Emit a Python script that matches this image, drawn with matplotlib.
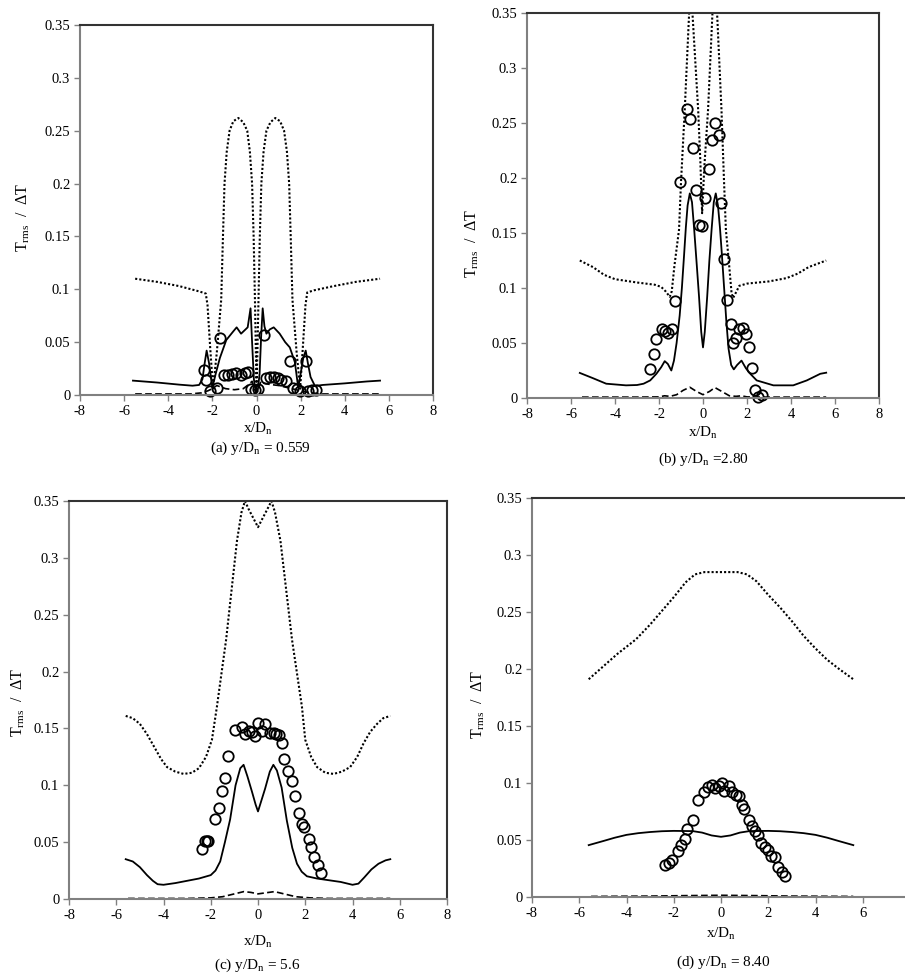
import matplotlib
matplotlib.use("Agg")
import matplotlib.pyplot as plt

plt.rcParams['font.family'] = ['Liberation Serif', 'DejaVu Serif']
plt.rcParams['mathtext.fontset'] = 'custom'
plt.rcParams['mathtext.rm'] = 'Liberation Serif'
plt.rcParams['mathtext.it'] = 'Liberation Serif:italic'
plt.rcParams['axes.unicode_minus'] = False

# ---------------- panel (a) y/Dn = 0.559 ----------------
a_dot_x = [-5.5, -4.5, -3.5, -2.6, -2.3, -2.22, -2.1, -1.97, -1.8, -1.6, -1.52, -1.45, -1.35, -1.22,
           -1.05, -0.82, -0.6, -0.42, -0.3, -0.2, -0.13, -0.07, -0.02, 0.0, 0.03, 0.09, 0.15, 0.22,
           0.32, 0.45, 0.63, 0.85, 1.07, 1.25, 1.38, 1.48, 1.55, 1.63, 1.82, 1.98, 2.1, 2.22, 2.3,
           2.6, 3.5, 4.5, 5.6]
a_dot_y = [0.110, 0.107, 0.103, 0.098, 0.096, 0.085, 0.045, 0.006, 0.04, 0.09, 0.15, 0.2, 0.23, 0.25,
           0.259, 0.262, 0.258, 0.25, 0.23, 0.2, 0.15, 0.09, 0.03, 0.005, 0.03, 0.09, 0.15, 0.2,
           0.23, 0.25, 0.258, 0.262, 0.259, 0.25, 0.23, 0.2, 0.15, 0.09, 0.04, 0.006, 0.045, 0.085, 0.097,
           0.099, 0.103, 0.107, 0.110]
a_sol_x = [-5.6, -4.5, -3.5, -2.9, -2.6, -2.45, -2.35, -2.26, -2.15, -2.0, -1.85, -1.66, -1.37, -1.06,
           -0.9, -0.7, -0.55, -0.4, -0.27, -0.2, -0.12, -0.03, 0.05, 0.14, 0.21, 0.28, 0.36, 0.45,
           0.6, 0.78, 1.05, 1.3, 1.51, 1.74, 1.89, 2.0, 2.12, 2.23, 2.33, 2.45, 2.65, 3.0, 4.0, 5.0, 5.6]
a_sol_y = [0.0136, 0.0118, 0.0098, 0.0088, 0.0095, 0.015, 0.03, 0.042, 0.03, 0.007, 0.02, 0.035, 0.052, 0.06,
           0.064, 0.058, 0.061, 0.064, 0.082, 0.05, 0.015, 0.003, 0.003, 0.02, 0.055, 0.082, 0.065, 0.058,
           0.062, 0.064, 0.058, 0.05, 0.045, 0.031, 0.007, 0.02, 0.035, 0.042, 0.03, 0.017, 0.0085, 0.0095,
           0.011, 0.0128, 0.0136]
a_dash_x = [-5.5, -3.0, -2.5, -2.2, -2.0, -1.8, -1.4, -1.0, -0.6, -0.35, -0.2, -0.08, 0.0, 0.08, 0.2,
            0.35, 0.6, 1.0, 1.4, 1.8, 2.0, 2.2, 2.5, 3.0, 5.6]
a_dash_y = [0.001, 0.001, 0.002, 0.004, 0.006, 0.009, 0.006, 0.005, 0.006, 0.01, 0.013, 0.005, 0.002,
            0.005, 0.013, 0.011, 0.01, 0.009, 0.007, 0.005, 0.004, 0.003, 0.002, 0.001, 0.001]
a_exp_x = [-2.4, -2.28, -2.1, -1.81, -1.66, -1.48, -1.29, -1.13, -0.92, -0.7, -0.53, -0.4, -0.24, -0.08,
           0.08, 0.33, 0.42, 0.6, 0.8, 0.98, 1.13, 1.33, 1.54, 1.66, 1.84, 1.97, 2.23, 2.33, 2.53, 2.71]
a_exp_y = [0.024, 0.014, 0.004, 0.007, 0.054, 0.019, 0.019, 0.020, 0.021, 0.019, 0.021, 0.022, 0.006, 0.005,
           0.006, 0.057, 0.016, 0.017, 0.017, 0.016, 0.014, 0.013, 0.032, 0.007, 0.006, 0.004, 0.032, 0.004,
           0.005, 0.005]

# ---------------- panel (b) y/Dn = 2.80 ----------------
b_dot_x = [-5.6, -5.0, -4.5, -4.0, -3.0, -2.2, -1.9, -1.7, -1.51, -1.42, -1.3, -1.09, -1.0, -0.83,
           -0.63, -0.56, -0.48, -0.22, -0.12, -0.04, 0.06, 0.23, 0.43, 0.54, 0.64, 0.84, 0.95, 1.04,
           1.17, 1.3, 1.37, 1.5, 1.65, 2.0, 3.0, 3.8, 4.3, 4.8, 5.6]
b_dot_y = [0.125, 0.119, 0.112, 0.108, 0.105, 0.103, 0.101, 0.097, 0.092, 0.097, 0.12, 0.153, 0.196, 0.262,
           0.35, 0.378, 0.35, 0.262, 0.215, 0.168, 0.21, 0.262, 0.35, 0.376, 0.35, 0.262, 0.2, 0.153,
           0.125, 0.095, 0.091, 0.096, 0.102, 0.104, 0.106, 0.109, 0.113, 0.119, 0.125]
b_sol_x = [-5.6, -5.0, -4.4, -3.5, -3.0, -2.7, -2.4, -2.12, -1.9, -1.74, -1.6, -1.44, -1.32, -1.2, -1.06,
           -0.96, -0.86, -0.78, -0.7, -0.6, -0.5, -0.4, -0.28, -0.18, -0.08, 0.0, 0.08, 0.19, 0.29, 0.39,
           0.49, 0.58, 0.68, 0.77, 0.86, 0.96, 1.06, 1.16, 1.28, 1.4, 1.55, 1.75, 1.95, 2.15, 2.44, 3.2,
           4.1, 4.72, 5.33, 5.6]
b_sol_y = [0.0228, 0.018, 0.013, 0.0115, 0.0118, 0.013, 0.016, 0.022, 0.028, 0.0335, 0.031, 0.025, 0.034,
           0.05, 0.075, 0.1, 0.13, 0.155, 0.175, 0.186, 0.178, 0.153, 0.12, 0.092, 0.06, 0.046, 0.06, 0.092,
           0.125, 0.153, 0.178, 0.186, 0.175, 0.155, 0.13, 0.1, 0.07, 0.045, 0.03, 0.026, 0.03, 0.034, 0.027,
           0.022, 0.016, 0.0115, 0.0115, 0.016, 0.022, 0.023]
b_dash_x = [-5.5, -3.0, -2.0, -1.75, -1.5, -1.2, -0.9, -0.6, -0.3, 0.0, 0.3, 0.54, 0.85, 1.2, 1.5, 1.75,
            2.0, 3.0, 5.6]
b_dash_y = [0.0008, 0.0008, 0.001, 0.002, 0.0015, 0.003, 0.007, 0.0098, 0.006, 0.003, 0.006, 0.0095, 0.006,
            0.002, 0.0015, 0.002, 0.001, 0.0008, 0.0008]
b_exp_x = [-2.42, -2.24, -2.12, -1.86, -1.74, -1.58, -1.40, -1.27, -1.03, -0.74, -0.57, -0.44, -0.30,
           -0.19, -0.06, 0.11, 0.25, 0.40, 0.54, 0.71, 0.84, 0.97, 1.08, 1.25, 1.38, 1.49, 1.64, 1.80,
           1.95, 2.10, 2.23, 2.36, 2.52, 2.70]
b_exp_y = [0.026, 0.040, 0.054, 0.063, 0.061, 0.059, 0.063, 0.088, 0.196, 0.263, 0.254, 0.227, 0.189,
           0.157, 0.156, 0.182, 0.208, 0.235, 0.250, 0.239, 0.177, 0.126, 0.089, 0.067, 0.050, 0.055, 0.063,
           0.064, 0.058, 0.046, 0.027, 0.0076, 0.001, 0.003]

# ---------------- panel (c) y/Dn = 5.6 ----------------
c_dot_x = [-5.6, -5.3, -5.0, -4.7, -4.4, -4.1, -3.85, -3.5, -3.15, -2.8, -2.5, -2.2, -1.95, -1.74, -1.35,
           -0.89, -0.7, -0.55, -0.4, -0.2, 0.0, 0.2, 0.4, 0.57, 0.72, 0.95, 1.44, 1.86, 2.0, 2.25, 2.5,
           2.85, 3.2, 3.55, 3.9, 4.2, 4.47, 4.75, 5.04, 5.3, 5.6]
c_dot_y = [0.161, 0.159, 0.154, 0.145, 0.134, 0.123, 0.116, 0.112, 0.110, 0.111, 0.115, 0.125, 0.14, 0.169,
           0.228, 0.315, 0.34, 0.35, 0.343, 0.335, 0.327, 0.335, 0.343, 0.35, 0.34, 0.315, 0.228, 0.169,
           0.14, 0.125, 0.116, 0.111, 0.110, 0.112, 0.116, 0.125, 0.137, 0.147, 0.154, 0.159, 0.161]
c_sol_x = [-5.6, -5.3, -5.0, -4.7, -4.45, -4.25, -4.0, -3.5, -2.5, -2.0, -1.8, -1.6, -1.4, -1.18, -0.95,
           -0.75, -0.61, -0.45, -0.25, -0.1, 0.0, 0.12, 0.3, 0.5, 0.65, 0.8, 1.0, 1.22, 1.45, 1.65, 1.85,
           2.07, 2.5, 3.5, 4.0, 4.25, 4.5, 4.8, 5.1, 5.4, 5.6]
c_sol_y = [0.035, 0.033, 0.028, 0.021, 0.016, 0.013, 0.0125, 0.014, 0.018, 0.021, 0.025, 0.033, 0.05, 0.07,
           0.1, 0.115, 0.118, 0.108, 0.094, 0.083, 0.077, 0.085, 0.097, 0.112, 0.118, 0.113, 0.098, 0.069,
           0.045, 0.031, 0.024, 0.02, 0.018, 0.015, 0.0125, 0.0135, 0.019, 0.026, 0.031, 0.034, 0.035]
c_dash_x = [-5.5, -3.0, -2.0, -1.5, -1.0, -0.6, -0.3, 0.0, 0.35, 0.7, 1.1, 1.6, 2.2, 3.0, 5.6]
c_dash_y = [0.0005, 0.0005, 0.001, 0.002, 0.0045, 0.0065, 0.0058, 0.0045, 0.0055, 0.0065, 0.0045, 0.002,
            0.001, 0.0005, 0.0005]
c_exp_x = [-2.38, -2.24, -2.17, -2.10, -1.81, -1.67, -1.53, -1.39, -1.25, -0.97, -0.68, -0.54, -0.4, -0.24,
           -0.12, 0.02, 0.16, 0.31, 0.5, 0.66, 0.77, 0.88, 1.01, 1.11, 1.29, 1.43, 1.55, 1.72, 1.86, 1.96,
           2.14, 2.25, 2.39, 2.53, 2.68]
c_exp_y = [0.044, 0.051, 0.051, 0.051, 0.070, 0.080, 0.095, 0.106, 0.126, 0.149, 0.151, 0.145, 0.148, 0.147,
           0.143, 0.155, 0.148, 0.154, 0.146, 0.146, 0.145, 0.144, 0.137, 0.123, 0.113, 0.104, 0.091, 0.076,
           0.066, 0.063, 0.053, 0.046, 0.037, 0.030, 0.023]

# ---------------- panel (d) y/Dn = 8.40 ----------------
d_dot_x = [-5.6, -5.0, -4.4, -3.6, -3.0, -2.5, -2.0, -1.5, -1.1, -0.7, 0.0, 0.7, 1.1, 1.5, 2.0, 2.5, 3.0,
           3.5, 4.0, 4.5, 5.0, 5.6]
d_dot_y = [0.191, 0.202, 0.213, 0.226, 0.239, 0.251, 0.263, 0.276, 0.283, 0.285, 0.285, 0.285, 0.283, 0.277,
           0.265, 0.254, 0.242, 0.229, 0.218, 0.208, 0.2, 0.191]
d_sol_x = [-5.6, -5.0, -4.5, -4.0, -3.5, -3.0, -2.5, -2.0, -1.2, -0.8, -0.4, 0.0, 0.4, 0.8, 1.2, 2.0, 2.5,
           3.0, 3.5, 4.0, 4.5, 5.0, 5.6]
d_sol_y = [0.0455, 0.049, 0.052, 0.0545, 0.056, 0.057, 0.0577, 0.058, 0.0578, 0.0565, 0.054, 0.0528, 0.054,
           0.0565, 0.0578, 0.058, 0.0577, 0.057, 0.056, 0.0545, 0.052, 0.049, 0.0455]
d_dash_x = [-5.5, -3.0, -1.5, 0.0, 1.5, 3.0, 5.6]
d_dash_y = [0.0005, 0.0008, 0.0012, 0.0015, 0.0012, 0.0008, 0.0005]
d_exp_x = [-2.36, -2.22, -2.08, -1.8, -1.68, -1.51, -1.42, -1.2, -0.98, -0.7, -0.53, -0.39, -0.25, -0.1,
           0.04, 0.14, 0.32, 0.46, 0.63, 0.77, 0.88, 0.99, 1.19, 1.31, 1.45, 1.56, 1.7, 1.87, 1.99, 2.12,
           2.29, 2.43, 2.58, 2.72]
d_exp_y = [0.0284, 0.0299, 0.0328, 0.040, 0.046, 0.0512, 0.060, 0.0673, 0.085, 0.092, 0.0966, 0.098, 0.0958,
           0.097, 0.0996, 0.0928, 0.097, 0.0925, 0.0893, 0.089, 0.081, 0.077, 0.0673, 0.0627, 0.058, 0.054,
           0.047, 0.0437, 0.041, 0.0357, 0.035, 0.0263, 0.0216, 0.0187]

captions = ["(a) y/D$_\\mathrm{n}$ = 0.559", "(b) y/D$_\\mathrm{n}$ =2.80",
            "(c) y/D$_\\mathrm{n}$ = 5.6", "(d) y/D$_\\mathrm{n}$ = 8.40"]
y_ticks = [0, 0.05, 0.1, 0.15, 0.2, 0.25, 0.3, 0.35]
y_tick_labels = ["0", "0.05", "0.1", "0.15", "0.2", "0.25", "0.3", "0.35"]
x_ticks = [-8, -6, -4, -2, 0, 2, 4, 6, 8]
x_ticks_d = [-8, -6, -4, -2, 0, 2, 4, 6]   # panel (d) is cut at the right edge

panels = [
    (a_dot_x, a_dot_y, a_sol_x, a_sol_y, a_dash_x, a_dash_y, a_exp_x, a_exp_y),
    (b_dot_x, b_dot_y, b_sol_x, b_sol_y, b_dash_x, b_dash_y, b_exp_x, b_exp_y),
    (c_dot_x, c_dot_y, c_sol_x, c_sol_y, c_dash_x, c_dash_y, c_exp_x, c_exp_y),
    (d_dot_x, d_dot_y, d_sol_x, d_sol_y, d_dash_x, d_dash_y, d_exp_x, d_exp_y),
]

W, H = 905, 977
fig = plt.figure(figsize=(W / 100, H / 100), dpi=100)

# axes boxes in pixels: left, right, top, bottom
boxes = [(80, 433, 25, 395), (527, 879, 13, 398), (69, 447, 501, 899), (532, 910, 498, 897)]
ylab_pos = [(23, 217), (472, 243), (18, 702), (478, 704)]
xlab_pos = [(258, 429), (703, 433), (258, 942), (721, 934)]
cap_pos = [(260, 448), (703, 459), (257, 965), (723, 962)]

def fx(px):
    return px / W

def fy(py):
    return 1 - py / H

for i, (dx, dy, sx, sy, hx, hy, ex, ey) in enumerate(panels):
    l, r, t, b = boxes[i]
    ax = fig.add_axes([fx(l), fy(b), (r - l) / W, (b - t) / H])
    ax.plot(dx, dy, color='black', lw=1.5, linestyle=(0, (1, 1)))
    ax.plot(sx, sy, color='black', lw=1.3)
    ax.plot(hx, hy, color='black', lw=1.2, linestyle=(0, (4, 2)))
    ax.plot(ex, ey, 'o', ms=7.5, mfc='none', mec='black', mew=1.3, clip_on=False)
    ax.set_xlim(-8, 8)
    ax.set_ylim(0, 0.35)
    ax.set_xticks(x_ticks_d if i == 3 else x_ticks)
    ax.set_yticks(y_ticks)
    ax.set_yticklabels(y_tick_labels)
    ax.tick_params(direction='out', length=4, width=1, color='#808080', labelsize=10.5, pad=3)
    for s in ['left', 'bottom']:
        ax.spines[s].set_color('#808080')
        ax.spines[s].set_linewidth(1.5)
    for s in ['top', 'right']:
        ax.spines[s].set_color('#333333')
        ax.spines[s].set_linewidth(1.5)
    fig.text(fx(ylab_pos[i][0]), fy(ylab_pos[i][1]), "T$_\\mathrm{rms}$  /  \u0394T", rotation=90,
             ha='center', va='center', fontsize=11.5)
    fig.text(fx(xlab_pos[i][0]), fy(xlab_pos[i][1]), "x/D$_\\mathrm{n}$", ha='center', va='center',
             fontsize=11)
    fig.text(fx(cap_pos[i][0]), fy(cap_pos[i][1]), captions[i], ha='center', va='center', fontsize=11)

fig.savefig("out.png", dpi=100)
